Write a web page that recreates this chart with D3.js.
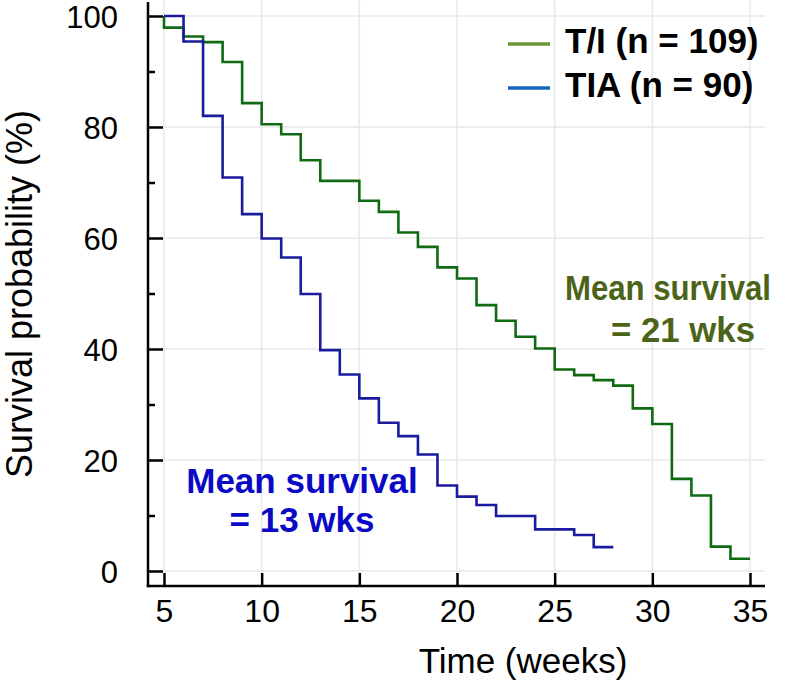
<!DOCTYPE html>
<html>
<head>
<meta charset="utf-8">
<script src="https://cdn.jsdelivr.net/npm/d3@7"></script>
<style>
  html, body { margin: 0; padding: 0; background: #ffffff; }
  svg { display: block; }
  text { font-family: "Liberation Sans", Arial, sans-serif; }
</style>
</head>
<body>
<svg id="chart" width="800" height="688"></svg>
<script>
// ---- data ----
const tiTimes    = [5, 5, 6, 7, 8, 9, 10, 11, 12, 13, 15, 16, 17, 18, 19, 20, 21, 22, 23, 24, 25, 26, 27, 28, 29, 30, 31, 32, 33, 34, 35];
const tiSurvival = [100, 97.9, 96.3, 95.3, 91.7, 84.3, 80.5, 78.7, 74.0, 70.3, 66.7, 64.7, 61.0, 58.4, 54.7, 52.7, 47.9, 45.1, 42.2, 40.1, 36.3, 35.3, 34.4, 33.4, 29.3, 26.5, 16.6, 13.6, 4.4, 2.2, 2.2];
const tiaTimes    = [5, 6, 7, 8, 9, 10, 11, 12, 13, 14, 15, 16, 17, 18, 19, 20, 21, 22, 24, 26, 27, 28];
const tiaSurvival = [100, 95.4, 82.0, 70.9, 64.3, 59.9, 56.5, 49.9, 39.8, 35.4, 31.1, 26.7, 24.3, 21.0, 15.4, 13.4, 11.9, 9.9, 7.5, 6.5, 4.3, 4.3];
const xTicks = [5, 10, 15, 20, 25, 30, 35];
const yTicks = [0, 20, 40, 60, 80, 100];
const yMinorTicks = [10, 30, 50, 70, 90];
const legendLabels = ["T/I (n = 109)", "TIA (n = 90)"];
const annotationTI  = ["Mean survival", "= 21 wks"];
const annotationTIA = ["Mean survival", "= 13 wks"];

// ---- layout ----
const svg = d3.select("#chart");
const axisLeftX = 148, axisBottomY = 586, plotRight = 765, plotTop = 2;
const x = d3.scaleLinear().domain([5, 35]).range([164, 750]);
const y = d3.scaleLinear().domain([0, 100]).range([571, 16]);

const colors = {
  tiLine: "#0f6a12", tiaLine: "#1b1b9e",
  tiLegend: "#6b9633", tiaLegend: "#1763c0",
  tiText: "#4b6419", tiaText: "#0a0ac6",
  grid: "#e8e8e8"
};

// grid
const grid = svg.append("g");
grid.selectAll("line.h").data(yTicks).join("line")
  .attr("x1", axisLeftX).attr("x2", plotRight)
  .attr("y1", d => y(d)).attr("y2", d => y(d))
  .attr("stroke", colors.grid).attr("stroke-width", 1.5);
grid.selectAll("line.v").data(xTicks).join("line")
  .attr("x1", d => x(d)).attr("x2", d => x(d))
  .attr("y1", 0).attr("y2", axisBottomY)
  .attr("stroke", colors.grid).attr("stroke-width", 1.5);

// curves
const line = d3.line().x(d => x(d[0])).y(d => y(d[1])).curve(d3.curveStepAfter);
const tiData = tiTimes.map((t, i) => [t, tiSurvival[i]]);
const tiaData = tiaTimes.map((t, i) => [t, tiaSurvival[i]]);
svg.append("path").datum(tiData).attr("d", line)
  .attr("fill", "none").attr("stroke", colors.tiLine).attr("stroke-width", 2.6);
svg.append("path").datum(tiaData).attr("d", line)
  .attr("fill", "none").attr("stroke", colors.tiaLine).attr("stroke-width", 2.6);

// axes
const yAxis = d3.axisLeft(y).tickValues(yTicks).tickSize(-15).tickPadding(30).tickFormat(d3.format("d"));
const yG = svg.append("g").attr("transform", `translate(${axisLeftX},0)`).call(yAxis);
yG.select(".domain").remove();
yG.selectAll(".tick line").attr("stroke", "#000").attr("stroke-width", 2.5);
yG.selectAll(".tick text").attr("font-size", 31).attr("fill", "#000")
  .attr("dy", "0.36em")
  .attr("font-family", "Liberation Sans, Arial, sans-serif");
const yMinor = d3.axisLeft(y).tickValues(yMinorTicks).tickSize(-7).tickFormat("");
const yMG = svg.append("g").attr("transform", `translate(${axisLeftX},0)`).call(yMinor);
yMG.select(".domain").remove();
yMG.selectAll(".tick line").attr("stroke", "#000").attr("stroke-width", 2.5);

const xAxis = d3.axisBottom(x).tickValues(xTicks).tickSize(-13).tickPadding(13).tickFormat(d3.format("d"));
const xG = svg.append("g").attr("transform", `translate(0,${axisBottomY})`).call(xAxis);
xG.select(".domain").remove();
xG.selectAll(".tick line").attr("stroke", "#000").attr("stroke-width", 2.5);
xG.selectAll(".tick text").attr("font-size", 32).attr("fill", "#000")
  .attr("font-family", "Liberation Sans, Arial, sans-serif");

svg.append("line").attr("x1", axisLeftX).attr("x2", axisLeftX)
  .attr("y1", plotTop).attr("y2", axisBottomY + 1.25)
  .attr("stroke", "#000").attr("stroke-width", 2.5);
svg.append("line").attr("x1", axisLeftX - 1.25).attr("x2", plotRight)
  .attr("y1", axisBottomY).attr("y2", axisBottomY)
  .attr("stroke", "#000").attr("stroke-width", 2.5);

// axis titles
svg.append("text").attr("transform", "translate(32,294) rotate(-90)")
  .attr("text-anchor", "middle").attr("font-size", 36).attr("fill", "#000")
  .text("Survival probability (%)");
svg.append("text").attr("x", 523).attr("y", 673)
  .attr("text-anchor", "middle").attr("font-size", 35).attr("fill", "#000")
  .text("Time (weeks)");

// legend
const legend = svg.append("g");
const legendColors = [colors.tiLegend, colors.tiaLegend];
const legendY = [44, 88];
legend.selectAll("line").data(legendLabels).join("line")
  .attr("x1", 508).attr("x2", 550)
  .attr("y1", (d, i) => legendY[i]).attr("y2", (d, i) => legendY[i])
  .attr("stroke", (d, i) => legendColors[i]).attr("stroke-width", 3.5);
legend.selectAll("text").data(legendLabels).join("text")
  .attr("x", 565).attr("y", (d, i) => legendY[i] + 9)
  .attr("font-size", 35).attr("font-weight", "bold").attr("fill", "#000")
  .text(d => d);

// annotations
const tiAnnX = [565, 611], tiAnnLen = [206, 144];
const annTI = svg.append("text").attr("font-size", 35).attr("font-weight", "bold")
  .attr("fill", colors.tiText);
annTI.selectAll("tspan").data(annotationTI).join("tspan")
  .attr("x", (d, i) => tiAnnX[i]).attr("y", (d, i) => 300 + i * 42)
  .attr("textLength", (d, i) => tiAnnLen[i]).attr("lengthAdjust", "spacingAndGlyphs")
  .text(d => d);
const annTIA = svg.append("text").attr("font-size", 35).attr("font-weight", "bold")
  .attr("fill", colors.tiaText).attr("text-anchor", "middle");
annTIA.selectAll("tspan").data(annotationTIA).join("tspan")
  .attr("x", 302).attr("y", (d, i) => 493 + i * 39).text(d => d);
</script>
</body>
</html>
